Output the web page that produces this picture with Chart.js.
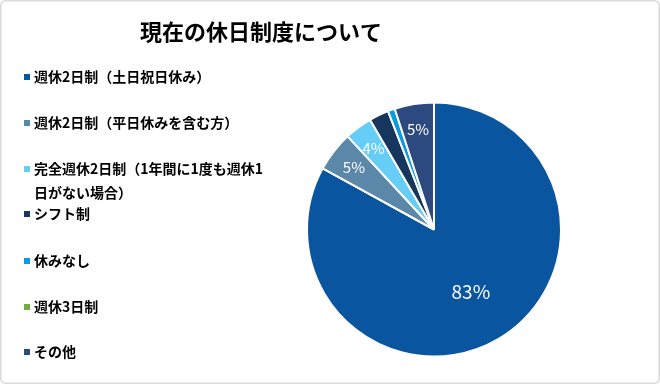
<!DOCTYPE html>
<html>
<head>
<meta charset="utf-8">
<script src="https://cdn.jsdelivr.net/npm/chart.js@4/dist/chart.umd.min.js"></script>
<style>
    html, body { margin: 0; padding: 0; background: #fff; }
    canvas { display: block; }
</style>
</head>
<body>
<canvas id="myChart" width="660" height="384"></canvas>
<script>
const chartTitle = '現在の休日制度について';
const categories = [
    '週休2日制（土日祝日休み）',
    '週休2日制（平日休みを含む方）',
    ['完全週休2日制（1年間に1度も週休1', '日がない場合）'],
    'シフト制',
    '休みなし',
    '週休3日制',
    'その他'
];
const shares = [83.0, 5.1, 3.5, 2.5, 0.9, 0.0, 5.0];
const valueLabels = ['83%', '5%', '4%', '', '', '', '5%'];
const sliceColors = ['#0a559f', '#5b87a8', '#66cdf6', '#17365d', '#0e9ade', '#70ad47', '#2c4a80'];

const fontFamily = '"Noto Sans CJK JP", "Noto Sans", sans-serif';

const frameAndText = {
    id: 'frameAndText',
    beforeDraw: function (chart) {
        const ctx = chart.ctx;
        ctx.save();
        ctx.fillStyle = '#fff';
        ctx.fillRect(0, 0, chart.width, chart.height);
        ctx.strokeStyle = '#d9d9d9';
        ctx.lineWidth = 1.5;
        ctx.beginPath();
        ctx.roundRect(0.75, 0.75, chart.width - 1.5, chart.height - 1.5, 5);
        ctx.stroke();
        ctx.restore();
    },
    afterDraw: function (chart) {
        const ctx = chart.ctx;
        ctx.save();

        // title
        ctx.fillStyle = '#000';
        ctx.font = 'bold 22px ' + fontFamily;
        ctx.textAlign = 'center';
        ctx.textBaseline = 'middle';
        ctx.fillText(chartTitle, 261, 32);

        // legend
        const rowY = [77, 123, 169, 214, 261, 307, 352];
        ctx.font = 'bold 14px ' + fontFamily;
        ctx.textAlign = 'left';
        chart.data.labels.forEach(function (label, i) {
            ctx.fillStyle = sliceColors[i];
            ctx.fillRect(24, rowY[i] - 3, 6, 6);
            ctx.fillStyle = '#000';
            const lines = Array.isArray(label) ? label : [label];
            lines.forEach(function (line, j) {
                ctx.fillText(line, 34, rowY[i] + j * 24);
            });
        });

        // data labels
        const meta = chart.getDatasetMeta(0);
        ctx.fillStyle = '#fff';
        ctx.textAlign = 'center';
        meta.data.forEach(function (arc, i) {
            const text = valueLabels[i];
            if (!text) return;
            const p = arc.getProps(['x', 'y', 'startAngle', 'endAngle', 'outerRadius']);
            const mid = (p.startAngle + p.endAngle) / 2;
            const big = shares[i] > 50;
            const r = p.outerRadius * (big ? 0.57 : 0.8);
            ctx.font = (big ? '19px ' : '15px ') + fontFamily;
            ctx.fillText(text, p.x + Math.cos(mid) * r, p.y + Math.sin(mid) * r);
        });
        ctx.restore();
    }
};

const ctx = document.getElementById('myChart').getContext('2d');
const myChart = new Chart(ctx, {
    type: 'pie',
    data: {
        labels: categories,
        datasets: [{
            data: shares,
            backgroundColor: sliceColors,
            borderColor: '#fff',
            borderWidth: 2
        }]
    },
    options: {
        responsive: false,
        animation: false,
        layout: {
            padding: { left: 306, right: 98, top: 101, bottom: 26 }
        },
        plugins: {
            legend: { display: false },
            tooltip: { enabled: false }
        }
    },
    plugins: [frameAndText]
});
</script>
</body>
</html>
